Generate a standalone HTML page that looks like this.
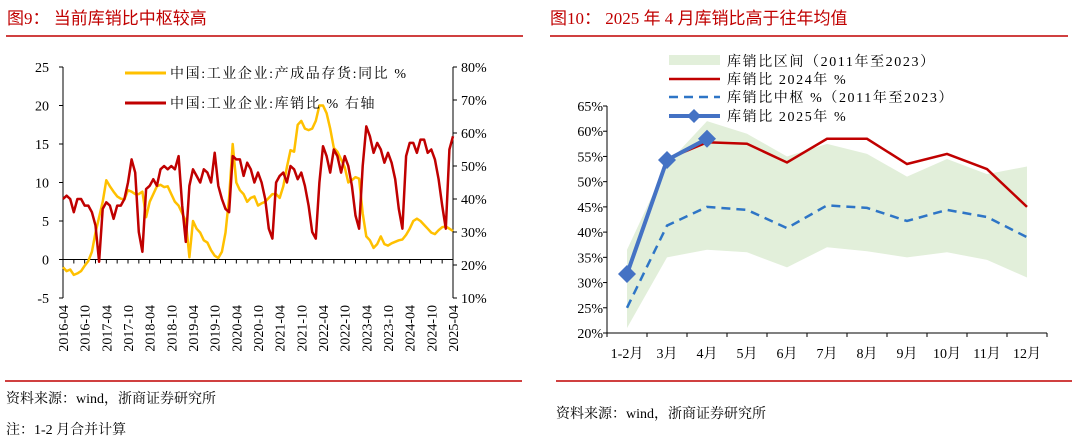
<!DOCTYPE html>
<html><head><meta charset="utf-8">
<style>
body{margin:0;background:#fff;width:1080px;height:443px;overflow:hidden;}
svg{display:block;font-family:"Liberation Serif","Noto Serif CJK SC",serif;}
.t{fill:#c00000;font-family:"Liberation Serif","Noto Sans CJK SC",sans-serif;font-size:17px;}
.ax{font-size:14px;fill:#000;}
.lg{font-size:14px;fill:#000;letter-spacing:1.6px;}
.src{font-size:14px;fill:#000;}
</style></head><body>
<svg id="svg" width="1080" height="443" viewBox="0 0 1080 443">
<text class="t" x="7" y="24">图9：  当前库销比中枢较高</text>
<line x1="6" y1="36" x2="523" y2="36" stroke="#c00000" stroke-width="1.5"/>
<text class="t" x="550" y="24">图10：  2025 年 4 月库销比高于往年均值</text>
<line x1="550" y1="36" x2="1068" y2="36" stroke="#c00000" stroke-width="1.5"/>
<line x1="5" y1="381" x2="522" y2="381" stroke="#c00000" stroke-width="1.5"/>
<line x1="556" y1="381" x2="1072" y2="381" stroke="#c00000" stroke-width="1.5"/>
<text class="src" x="6" y="403">资料来源：wind，浙商证券研究所</text>
<text class="src" x="6" y="434">注：1-2 月合并计算</text>
<text class="src" x="556" y="418">资料来源：wind，浙商证券研究所</text>
<g id="left"></g>
<g id="right"></g>
</svg>
<script>
// ---- Left chart data ----
const monthLabels = ["2016-04","2016-10","2017-04","2017-10","2018-04","2018-10","2019-04","2019-10","2020-04","2020-10","2021-04","2021-10","2022-04","2022-10","2023-04","2023-10","2024-04","2024-10","2025-04"];
const leftTicks = [25,20,15,10,5,0,-5];
const rightTicks = ["80%","70%","60%","50%","40%","30%","20%","10%"];
const inventoryYoY = [-1,-1.5,-1.3,-2,-1.8,-1.5,-0.8,-0.2,1,3.5,5.5,7.5,10.3,9.5,8.8,8.2,7.9,7.8,9,8.8,8.5,8.5,8.8,5.5,7.5,8.5,9.5,9.7,9.4,9.5,8.5,7.5,7,6,5,0.3,5,4,3.5,2.5,2.2,1.2,0.5,0.2,1,3.5,8,15,10,9,8.5,7.5,8,8.2,7,7.3,7.5,8,8.5,8.5,8,9.5,12,14.2,14,17.5,18,17,16.8,17,18,20,20,19,17,14.5,14,13,12,10,10.3,10.7,10.5,6,3,2.5,1.5,2,3,2,1.8,2.1,2.3,2.5,2.6,3.2,4,5,5.3,5,4.5,4,3.5,3.3,3.8,4.2,4.3,4,3.7];
const stockSalesRatio = [40,41,40,36,40,40,38,38,36,32,21,37,39,38,34,38,38,40,45,52,48,30,24,43,44,46,44,49,50,49,50,49,53,38,27,44,49,47,45,49,48,45,54,44,40,37,36,53,52,52,47,51,49,45,48,45,40,31,28,45,47,48,45,50,49,46,48,44,38,30,28,45,56,53,48,55,53,48,53,50,44,35,31,50,62,59,54,57,55,51,54,51,46,37,31,53,57,57,54,58,58,54,55,52,46,38,31,55,59];
// ---- Right chart data ----
const months = ["1-2月","3月","4月","5月","6月","7月","8月","9月","10月","11月","12月"];
const pctTicks = [65,60,55,50,45,40,35,30,25,20];
const bandHigh = [36.5,53.5,62,59.5,55,57.5,55.5,51,54.5,51.5,53];
const bandLow = [21,35,36.5,36,33,37,36.2,35,36,34.5,31];
const ratio2024 = [null,54.5,57.8,57.5,53.8,58.5,58.5,53.5,55.5,52.5,45];
const median = [25,41.3,45,44.4,40.8,45.3,44.8,42.2,44.4,43,39];
const ratio2025 = [31.7,54.3,58.5];

const NS="http://www.w3.org/2000/svg";
function mk(parent,tag,attrs){const e=document.createElementNS(NS,tag);for(const k in attrs)e.setAttribute(k,attrs[k]);parent.appendChild(e);return e;}

// Left chart
const L=document.getElementById('left');
const lx0=63,lx1=453,ly0=67,ly1=298;
const yL=v=>ly1-(v-(-5))/30*(ly1-ly0);
const yR=v=>ly1-(v-10)/70*(ly1-ly0);
const xM=i=>lx0+i*(lx1-lx0)/108;
let e;
e=mk(L,'line',{x1:lx0,y1:ly0,x2:lx0,y2:ly1,stroke:'#000'});


e=mk(L,'line',{x1:lx1,y1:ly0,x2:lx1,y2:ly1,stroke:'#000'});


e=mk(L,'line',{x1:lx0,y1:yL(0),x2:lx1,y2:yL(0),stroke:'#000'});


leftTicks.forEach(v=>{
  mk(L,'line',{x1:lx0-4,y1:yL(v),x2:lx0,y2:yL(v),stroke:'#000'});
  e=mk(L,'text',{x:lx0-14,y:yL(v)+5,'text-anchor':'end',class:'ax'});e.textContent=v;
  
  
});
rightTicks.forEach((s,i)=>{
  const y=ly0+i*(ly1-ly0)/7;
  mk(L,'line',{x1:lx1,y1:y,x2:lx1+4,y2:y,stroke:'#000'});
  e=mk(L,'text',{x:lx1+8,y:y+5,class:'ax'});e.textContent=s;
  
  
});
for(let i=0;i<=108;i+=3){mk(L,'line',{x1:xM(i),y1:yL(0),x2:xM(i),y2:yL(0)+4,stroke:'#000'});}
monthLabels.forEach((s,i)=>{
  const x=xM(i*6);
  e=mk(L,'text',{x:0,y:0,'text-anchor':'end',class:'ax',transform:`translate(${x+5},305) rotate(-90)`});e.textContent=s;
  
  
});
e=mk(L,'path',{d:inventoryYoY.map((v,i)=>(i?'L':'M')+xM(i).toFixed(1)+','+yL(v).toFixed(1)).join(''),fill:'none',stroke:'#ffc000','stroke-width':2.5,'stroke-linejoin':'round'});


e=mk(L,'path',{d:stockSalesRatio.map((v,i)=>(i?'L':'M')+xM(i).toFixed(1)+','+yR(v).toFixed(1)).join(''),fill:'none',stroke:'#c00000','stroke-width':2.5,'stroke-linejoin':'round'});


mk(L,'line',{x1:125,y1:73,x2:166,y2:73,stroke:'#ffc000','stroke-width':3});
e=mk(L,'text',{x:170,y:78,class:'lg','letter-spacing':'2.2px'});e.textContent='中国:工业企业:产成品存货:同比 %';


mk(L,'line',{x1:125,y1:103,x2:166,y2:103,stroke:'#c00000','stroke-width':3});
e=mk(L,'text',{x:170,y:108,class:'lg','letter-spacing':'2.2px'});e.textContent='中国:工业企业:库销比 % 右轴';



// Right chart
const R=document.getElementById('right');
const rx0=607,rx1=1047,ry0=106,ry1=333;
const yP=v=>ry1-(v-20)/45*(ry1-ry0);
const step=(rx1-rx0)/11;
const xC=i=>rx0+step*(i+0.5);
const band=bandHigh.map((v,i)=>xC(i)+','+yP(v)).concat(bandLow.map((v,i)=>xC(i)+','+yP(v)).reverse());
e=mk(R,'polygon',{points:band.join(' '),fill:'#e2efda'});


e=mk(R,'line',{x1:rx0,y1:ry0,x2:rx0,y2:ry1,stroke:'#000'});


e=mk(R,'line',{x1:rx0,y1:ry1,x2:rx1,y2:ry1,stroke:'#000'});


pctTicks.forEach(v=>{
  mk(R,'line',{x1:rx0-4,y1:yP(v),x2:rx0,y2:yP(v),stroke:'#000'});
  e=mk(R,'text',{x:rx0-4,y:yP(v)+5,'text-anchor':'end',class:'ax'});e.textContent=v+'%';
  
  
});
for(let i=0;i<=11;i++)mk(R,'line',{x1:rx0+step*i,y1:ry1,x2:rx0+step*i,y2:ry1+4,stroke:'#000'});
months.forEach((s,i)=>{
  e=mk(R,'text',{x:xC(i),y:ry1+25,'text-anchor':'middle',class:'ax'});e.textContent=s;
  
  
});
function pathOf(arr){let d='';arr.forEach((v,i)=>{if(v==null)return;d+=(d?'L':'M')+xC(i).toFixed(1)+','+yP(v).toFixed(1);});return d;}
e=mk(R,'path',{d:pathOf(median),fill:'none',stroke:'#2e75c6','stroke-width':2.5,'stroke-dasharray':'9,6'});


e=mk(R,'path',{d:pathOf(ratio2024),fill:'none',stroke:'#c00000','stroke-width':2.5});


e=mk(R,'path',{d:pathOf(ratio2025),fill:'none',stroke:'#4472c4','stroke-width':4});


ratio2025.forEach((v,i)=>{
  const x=xC(i),y=yP(v);
  e=mk(R,'polygon',{points:`${x},${y-9} ${x+9},${y} ${x},${y+9} ${x-9},${y}`,fill:'#4472c4'});
  
  
});
// legend
mk(R,'rect',{x:669,y:55,width:51,height:10,fill:'#e2efda'});
e=mk(R,'text',{x:727,y:66,class:'lg'});e.textContent='库销比区间（2011年至2023）';


mk(R,'line',{x1:669,y1:79,x2:720,y2:79,stroke:'#c00000','stroke-width':2.5});
e=mk(R,'text',{x:727,y:84,class:'lg'});e.textContent='库销比 2024年 %';


mk(R,'line',{x1:669,y1:97,x2:720,y2:97,stroke:'#2e75c6','stroke-width':2.5,'stroke-dasharray':'9,6'});
e=mk(R,'text',{x:727,y:102,class:'lg'});e.textContent='库销比中枢 %（2011年至2023）';


mk(R,'line',{x1:669,y1:116,x2:720,y2:116,stroke:'#4472c4','stroke-width':4});
mk(R,'polygon',{points:'694,109 701,116 694,123 687,116',fill:'#4472c4'});
e=mk(R,'text',{x:727,y:121,class:'lg'});e.textContent='库销比 2025年 %';


</script>
</body></html>
